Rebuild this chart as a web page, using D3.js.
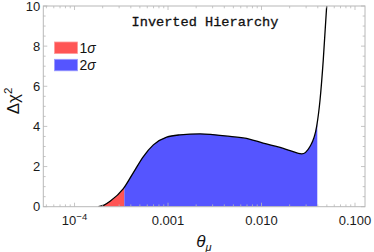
<!DOCTYPE html>
<html><head><meta charset="utf-8">
<script src="https://cdn.jsdelivr.net/npm/d3@7"></script>
<style>body{margin:0;background:#fff}svg{display:block}</style>
</head><body>
<script>
// Data
const theta = [1.80e-4, 2.07e-4, 2.40e-4, 3.33e-4, 4.26e-4, 5.45e-4, 6.97e-4, 9.68e-4, 1.34e-3, 2.20e-3, 4.60e-3, 7.4e-3, 0.0104, 0.0158, 0.0202, 0.0269, 0.0330, 0.0389, 0.0423, 0.0458, 0.0498];
const chi2  = [0,      0.08,    0.27,    0.9,     1.7,     2.5,     3.08,    3.47,    3.58,    3.63,    3.5,     3.37,   3.17,   2.95,   2.8,    2.63,   3.0,    4.0,    5.33,   7.33,   10];
const sigmaLabels = ["1σ", "2σ"];
const sigmaColors = ["#ff5555", "#5555ff"];
const sigmaEdges = [1.80e-4, 3.41e-4, 0.0395]; // fill boundaries
const xTickValues = [1e-4, 1e-3, 1e-2, 1e-1];
const xTickLabels = ["10^-4", "0.001", "0.010", "0.100"];
const yTickValues = [0, 2, 4, 6, 8, 10];

const W = 374, H = 252;
const L = 43.3, R = 365, T = 6, B = 206.7;
const svg = d3.select("body").append("svg").attr("width", W).attr("height", H)
  .style("font-family", "'Liberation Sans', Arial, sans-serif");

const x = d3.scaleLog().domain([Math.pow(10, -4.334), Math.pow(10, -0.893)]).range([L, R]);
const y = d3.scaleLinear().domain([0, 10]).range([B, T]);

const defs = svg.append("defs");
defs.append("clipPath").attr("id", "plotclip").append("rect")
  .attr("x", L).attr("y", T).attr("width", R - L).attr("height", B - T);
sigmaColors.forEach((c, i) => {
  defs.append("clipPath").attr("id", "sc" + i).append("rect")
    .attr("x", x(sigmaEdges[i])).attr("y", T)
    .attr("width", x(sigmaEdges[i + 1]) - x(sigmaEdges[i])).attr("height", B - T);
});

const pts = theta.map((t, i) => [t, chi2[i]]);
const area = d3.area().x(d => x(d[0])).y0(y(0)).y1(d => y(d[1])).curve(d3.curveMonotoneX);
const line = d3.line().x(d => x(d[0])).y(d => y(d[1])).curve(d3.curveMonotoneX);

const plot = svg.append("g").attr("clip-path", "url(#plotclip)");
sigmaColors.forEach((c, i) => {
  plot.append("path").datum(pts).attr("d", area).attr("fill", c)
    .attr("clip-path", `url(#sc${i})`);
});

// Frame
const frameColor = "#b8b8b8";
svg.append("rect").attr("x", L).attr("y", T).attr("width", R - L).attr("height", B - T)
  .attr("fill", "none").attr("stroke", frameColor).attr("stroke-width", 1);

// ticks
const tg = svg.append("g").attr("stroke", frameColor).attr("stroke-width", 0.8);
const minorX = [];
for (let e = -5; e <= 0; e++) for (let k = 1; k <= 9; k++) {
  const v = k * Math.pow(10, e);
  if (v >= x.domain()[0] && v <= x.domain()[1]) minorX.push({v, major: k === 1});
}
minorX.forEach(d => {
  const len = d.major ? 4 : 2.3;
  tg.append("line").attr("x1", x(d.v)).attr("x2", x(d.v)).attr("y1", B).attr("y2", B - len);
  tg.append("line").attr("x1", x(d.v)).attr("x2", x(d.v)).attr("y1", T).attr("y2", T + len);
});
for (let v = 0; v <= 10; v += 0.5) {
  const major = Math.abs(v % 2) < 1e-9;
  const len = major ? 4 : 2.3;
  tg.append("line").attr("x1", L).attr("x2", L + len).attr("y1", y(v)).attr("y2", y(v));
  tg.append("line").attr("x1", R).attr("x2", R - len).attr("y1", y(v)).attr("y2", y(v));
}

// curve
plot.append("path").datum(pts).attr("d", line).attr("fill", "none")
  .attr("stroke", "#000").attr("stroke-width", 1.3);

// tick labels
const xl = svg.append("g").attr("font-size", 13).attr("fill", "#1a1a1a").attr("text-anchor", "middle");
xTickValues.forEach((v, i) => {
  const t = xl.append("text").attr("x", x(v)).attr("y", B + 18);
  const lab = xTickLabels[i];
  if (lab.includes("^")) {
    const [b, e] = lab.split("^");
    t.append("tspan").text(b);
    t.append("tspan").attr("dy", -5).attr("font-size", 9.5).text(e.replace("-", "\u2212"));
  } else t.text(lab);
});
const yl = svg.append("g").attr("font-size", 13).attr("fill", "#1a1a1a").attr("text-anchor", "end");
yTickValues.forEach(v => {
  yl.append("text").attr("x", L - 3).attr("y", y(v) + 4.6).text(v);
});

// axis labels
const ylab = svg.append("text").attr("transform", `translate(18.5,101) rotate(-90)`)
  .attr("text-anchor", "middle").attr("font-size", 17).attr("fill", "#111");
ylab.append("tspan").text("\u0394\u03c7");
ylab.append("tspan").attr("dy", -7).attr("font-size", 11.5).text("2");

const xlab = svg.append("text").attr("x", 204).attr("y", 246.5).attr("text-anchor", "middle")
  .attr("font-size", 17).attr("fill", "#111");
xlab.append("tspan").attr("font-style", "italic").text("\u03b8");
xlab.append("tspan").attr("dy", 4).attr("font-size", 11).attr("font-style", "italic").text("\u03bc");

// title
svg.append("text").attr("x", 205).attr("y", 25.5).attr("text-anchor", "middle")
  .attr("font-family", "'Courier New', 'Liberation Mono', monospace")
  .attr("font-size", 13.6).attr("fill", "#111").attr("stroke", "#111").attr("stroke-width", 0.3)
  .text("Inverted Hierarchy");

// legend
const lg = svg.append("g");
sigmaLabels.forEach((s, i) => {
  const yy = 42 + i * 17.3;
  lg.append("rect").attr("x", 54.5).attr("y", yy).attr("width", 23).attr("height", 11.5)
    .attr("fill", sigmaColors[i]).attr("stroke", i === 0 ? "#ff9a9a" : "#9a9aff").attr("stroke-width", 0.8);
  const t = lg.append("text").attr("x", 79.5).attr("y", yy + 11).attr("font-size", 14).attr("fill", "#111");
  t.append("tspan").text(s[0]);
  t.append("tspan").attr("font-style", "italic").text(s.slice(1));
});
</script>
</body></html>
